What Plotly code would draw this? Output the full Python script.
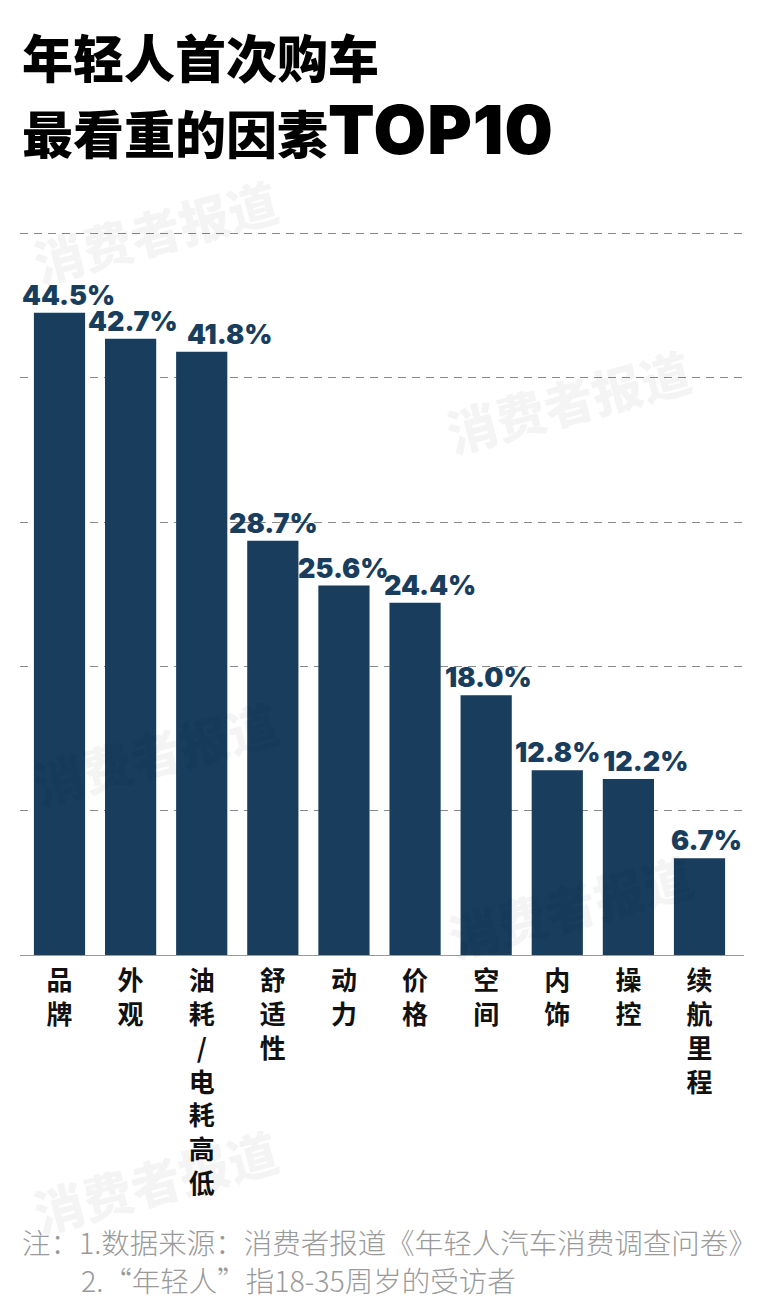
import plotly.graph_objects as go

# ---- data ----
categories = ["品牌", "外观", "油耗/电耗高低", "舒适性", "动力", "价格", "空间", "内饰", "操控", "续航里程"]
values = [44.5, 42.7, 41.8, 28.7, 25.6, 24.4, 18.0, 12.8, 12.2, 6.7]
value_labels = ["44.5%", "42.7%", "41.8%", "28.7%", "25.6%", "24.4%", "18.0%", "12.8%", "12.2%", "6.7%"]
grid_vals = [10, 20, 30, 40, 50]

title_line1 = "年轻人首次购车"
title_line2_cjk = "最看重的因素"
title_line2_latin = "TOP10"
notes = ["注：1.数据来源：消费者报道《年轻人汽车消费调查问卷》", "2.“年轻人”指18-35周岁的受访者"]
watermark = "消费者报道"

# ---- style ----
W, H = 771, 1313
L, R, T, B = 20, 744, 219, 955
BAR = "#183d5d"
label_xshift = [9, 2, 28, 1, 0, 15, 2, 0, 17, 7]

def px(x):
    return (x - L) / (R - L)

def py(y):
    return (B - y) / (B - T)

tick_text = ["<br>".join(list(c)) for c in categories]

fig = go.Figure()
fig.add_trace(go.Bar(
    x=categories, y=values, marker=dict(color=BAR, line=dict(width=0)),
    hoverinfo="skip", cliponaxis=False,
))

annotations = []
# watermarks
for (wx, wy) in [(155, 230), (568, 400), (155, 752), (570, 905), (155, 1180)]:
    annotations.append(dict(
        text=watermark, xref="paper", yref="paper", x=px(wx), y=py(wy),
        xanchor="center", yanchor="middle", showarrow=False, textangle=-15,
        font=dict(family="Noto Sans CJK SC", size=50, weight=900, color="rgba(0,0,0,0.045)"),
    ))

# value labels
for c, v, t, s in zip(categories, values, value_labels, label_xshift):
    annotations.append(dict(
        text=t, x=c, y=v, xref="x", yref="y", xanchor="center", yanchor="bottom",
        xshift=s, yshift=-1, showarrow=False,
        font=dict(family="Inter", size=27, weight=900, color=BAR),
    ))

# titles
annotations.append(dict(
    text=title_line1, xref="paper", yref="paper", x=px(20), y=py(56),
    xanchor="left", yanchor="middle", showarrow=False,
    font=dict(family="Noto Sans CJK SC", size=51, weight=900, color="#000000"),
))
annotations.append(dict(
    text=title_line2_cjk + '<span style="font-family:Inter;font-size:68px;font-weight:900;letter-spacing:1px">'
         + title_line2_latin + "</span>",
    xref="paper", yref="paper", x=px(20), y=py(129),
    xanchor="left", yanchor="middle", showarrow=False,
    font=dict(family="Noto Sans CJK SC", size=51, weight=900, color="#000000"),
))

# notes
annotations.append(dict(
    text=notes[0], xref="paper", yref="paper", x=px(20), y=py(1241),
    xanchor="left", yanchor="middle", showarrow=False,
    font=dict(family="Noto Sans CJK SC", size=28.5, weight=300, color="#9a9a9a"),
))
annotations.append(dict(
    text=notes[1], xref="paper", yref="paper", x=px(79), y=py(1279),
    xanchor="left", yanchor="middle", showarrow=False,
    font=dict(family="Noto Sans CJK SC", size=28.5, weight=300, color="#9a9a9a"),
))

fig.update_layout(
    width=W, height=H,
    margin=dict(l=L, r=W - R, t=T, b=H - B, pad=0),
    paper_bgcolor="white", plot_bgcolor="white",
    bargap=0.28, showlegend=False,
    annotations=annotations,
    xaxis=dict(
        tickmode="array", tickvals=categories, ticktext=tick_text,
        ticks="", showline=True, linecolor="#9a9a9a", linewidth=1,
        showgrid=False, ticklabelstandoff=3,
        tickfont=dict(family="Noto Sans CJK SC", size=26, weight=700, color="#111111"),
        fixedrange=True,
    ),
    yaxis=dict(
        range=[0, 51], tickvals=grid_vals, showticklabels=False,
        showgrid=True, gridcolor="#8a8a8a", gridwidth=1, griddash="8px,6px",
        zeroline=False, showline=False, fixedrange=True,
    ),
)

fig.write_html("out.html")
